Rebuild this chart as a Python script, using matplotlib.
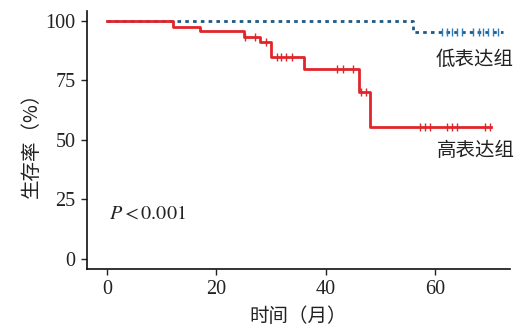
import matplotlib
matplotlib.use("Agg")
import matplotlib.pyplot as plt

plt.rcParams['mathtext.fontset'] = 'stix'

# high expression group (red)
high_t = [0, 12, 17, 25, 28, 30, 36, 46, 48, 70.2]
high_s = [100, 97.4, 95.6, 93.4, 91.3, 85.0, 79.7, 70.3, 55.6, 55.6]
high_cens_t = [25.3, 27.0, 29.1, 31.0, 31.9, 32.8, 33.8, 42.1, 43.1, 45.0,
               46.5, 47.3, 57.2, 58.1, 59.0, 62.1, 63.0, 63.9, 69.1, 70.0]

# low expression group (blue)
low_t = [0, 56, 72.4]
low_s = [100, 95.3, 95.3]
low_cens_t = [61.2, 62.1, 63.0, 63.9, 64.8, 66.9, 67.9, 68.8, 69.7, 70.6, 71.5]

xticks = [0, 20, 40, 60]
yticks = [0, 25, 50, 75, 100]

def surv_at(ts, ss, t):
    v = ss[0]
    for a, b in zip(ts, ss):
        if a <= t:
            v = b
    return v

serif = ['Liberation Serif', 'Noto Sans CJK SC']
cjk = ['Noto Sans CJK SC', 'Liberation Serif']

fig = plt.figure(figsize=(5.17, 3.26), dpi=100)
ax = fig.add_axes([0.168, 0.175, 0.818, 0.79])

ax.step(high_t, high_s, where='post', color='#e0262b', lw=2.0, zorder=3)
ax.plot(high_cens_t, [surv_at(high_t, high_s, t) for t in high_cens_t],
        ls='none', marker='|', ms=6, mew=1.0, color='#e0262b', zorder=3)

ax.step(low_t, low_s, where='post', color='#1d5a86', lw=2.0,
        ls=(0, (1.3, 1.5)), zorder=2)
ax.plot(low_cens_t, [surv_at(low_t, low_s, t) for t in low_cens_t],
        ls='none', marker='|', ms=6, mew=1.0, color='#2b7bbd', zorder=2)

ax.text(60, 84, '低表达组', family=cjk, fontsize=14, color='#222222',
        va='center', ha='left')
ax.text(60.3, 45.6, '高表达组', family=cjk, fontsize=14, color='#222222',
        va='center', ha='left')
ax.text(0.4, 19.4, r'$P<0.001$', fontsize=14.5,
        color='#222222', va='center', ha='left')

ax.set_xlim(-3.65, 73.6)
ax.set_ylim(-4.2, 104)
ax.set_xticks(xticks)
ax.set_yticks(yticks)
ax.set_xticklabels([str(v) for v in xticks], family=serif, fontsize=14.5)
ax.set_yticklabels([str(v) for v in yticks], family=serif, fontsize=14.5)
ax.tick_params(direction='out', length=4, width=1, colors='#222222', pad=4)

for s in ['top', 'right']:
    ax.spines[s].set_visible(False)
for s in ['left', 'bottom']:
    ax.spines[s].set_linewidth(1.2)
    ax.spines[s].set_color('#111111')

ax.set_xlabel('时间（月）', family=cjk, fontsize=14, color='#222222', labelpad=5)
ax.set_ylabel('生存率（%）', family=cjk, fontsize=14, color='#222222', labelpad=3)

fig.savefig('out.png', dpi=100)
